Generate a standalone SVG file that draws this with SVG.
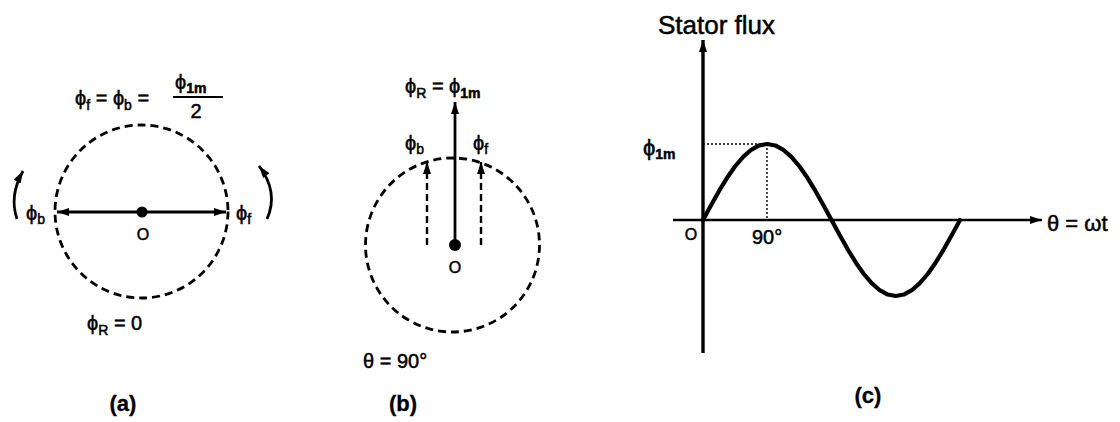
<svg xmlns="http://www.w3.org/2000/svg" width="1120" height="422" viewBox="0 0 1120 422">
<style>
text{font-family:"Liberation Sans","DejaVu Sans",Arial,sans-serif;fill:#000;stroke:#000;stroke-width:0.5}
.t{font-size:20px}
.tc{font-size:22px}
.sub{font-size:14px}
.cap{font-size:22px;font-weight:bold;stroke-width:0.3}
.dash{fill:none;stroke:#000;stroke-width:2.8;stroke-dasharray:8 5}
.line{fill:none;stroke:#000;stroke-width:2.8}
.dot{fill:none;stroke:#000;stroke-width:1.4;stroke-dasharray:2 2}
</style>
<defs>
<marker id="ah" viewBox="0 0 12 8" refX="12" refY="4" markerWidth="12" markerHeight="8" markerUnits="userSpaceOnUse" orient="auto-start-reverse">
<path d="M0,0 L12,4 L0,8 z" fill="#000"/>
</marker>
</defs>
<rect width="1120" height="422" fill="#fff"/>

<!-- (a) -->
<g id="diagram-a">
<circle class="dash" cx="141.5" cy="211.5" r="86.5"/>
<circle cx="142" cy="212" r="5.5" fill="#000"/>
<text class="t" x="75" y="105">ϕ<tspan class="sub" dy="5">f</tspan><tspan dy="-5"> = ϕ</tspan><tspan class="sub" dy="5">b</tspan><tspan dy="-5"> =</tspan></text>
<text class="t" x="175" y="89">ϕ<tspan class="sub" dy="4" font-weight="bold">1m</tspan></text>
<line x1="173" y1="97" x2="223" y2="97" stroke="#000" stroke-width="1.8"/>
<text class="t" x="196" y="118" text-anchor="middle">2</text>
<text class="t" x="26" y="220">ϕ<tspan class="sub" dy="4">b</tspan></text>
<text class="t" x="236" y="220">ϕ<tspan class="sub" dy="4">f</tspan></text>
<text x="143" y="240" font-size="16" text-anchor="middle">O</text>
<text class="t" x="87" y="330">ϕ<tspan class="sub" dy="5">R</tspan><tspan dy="-5"> = 0</tspan></text>
<text class="cap" x="123" y="411" text-anchor="middle">(a)</text>
</g>

<!-- (b) -->
<g id="diagram-b">
<circle class="dash" cx="452.5" cy="245" r="87"/>
<circle cx="455" cy="245" r="6" fill="#000"/>
<text class="t" x="405" y="93">ϕ<tspan class="sub" dy="5">R</tspan><tspan dy="-5"> = ϕ</tspan><tspan class="sub" dy="5" font-weight="bold">1m</tspan></text>
<text class="t" x="405" y="150">ϕ<tspan class="sub" dy="4">b</tspan></text>
<text class="t" x="473" y="150">ϕ<tspan class="sub" dy="4">f</tspan></text>
<text x="455" y="273" font-size="16" text-anchor="middle">O</text>
<text class="t" x="363" y="368">θ = 90°</text>
<text class="cap" x="403" y="411" text-anchor="middle">(b)</text>
</g>

<!-- (c) -->
<g id="diagram-c">
<polyline fill="none" stroke="#000" stroke-width="4.2" stroke-linejoin="round" stroke-linecap="round" points="703,220 711.03,205.17 719.06,190.92 727.09,177.78 735.13,166.26 743.16,156.81 751.19,149.78 759.22,145.46 767.25,144 775.28,145.46 783.31,149.78 791.34,156.81 799.38,166.26 807.41,177.78 815.44,190.92 823.47,205.17 831.5,220 839.53,234.83 847.56,249.08 855.59,262.22 863.63,273.74 871.66,283.19 879.69,290.22 887.72,294.54 895.75,296 903.78,294.54 911.81,290.22 919.84,283.19 927.88,273.74 935.91,262.22 943.94,249.08 951.97,234.83 960,220"/>
<path class="dot" d="M703,144 H767 V220"/>
<text x="658" y="34" font-size="26">Stator flux</text>
<text class="tc" x="643" y="155">ϕ<tspan class="sub" dy="4" font-weight="bold">1m</tspan></text>
<text x="691" y="240" font-size="16" text-anchor="middle">O</text>
<text class="t" x="752" y="244">90°</text>
<text class="tc" x="1047" y="231">θ = ωt</text>
<text class="cap" x="868" y="403" text-anchor="middle" font-size="24">(c)</text>
</g>

<!-- connectors -->
<g id="connectors">
<line class="line" x1="57" y1="212" x2="226" y2="212" marker-start="url(#ah)" marker-end="url(#ah)"/>
<path class="line" d="M17,219 Q9,196 23,171" marker-end="url(#ah)"/>
<path class="line" d="M267,219 Q279,192 259,166" marker-end="url(#ah)"/>
<line class="line" x1="455" y1="245" x2="455" y2="102" marker-end="url(#ah)"/>
<line x1="427" y1="245" x2="427" y2="162" stroke="#000" stroke-width="2.4" stroke-dasharray="7 4" marker-end="url(#ah)"/>
<line x1="481" y1="245" x2="481" y2="162" stroke="#000" stroke-width="2.4" stroke-dasharray="7 4" marker-end="url(#ah)"/>
<line x1="703" y1="353" x2="703" y2="40" stroke="#000" stroke-width="3.4" marker-end="url(#ah)"/>
<line x1="673" y1="220" x2="1042" y2="220" stroke="#000" stroke-width="2.4" marker-end="url(#ah)"/>
</g>
</svg>
